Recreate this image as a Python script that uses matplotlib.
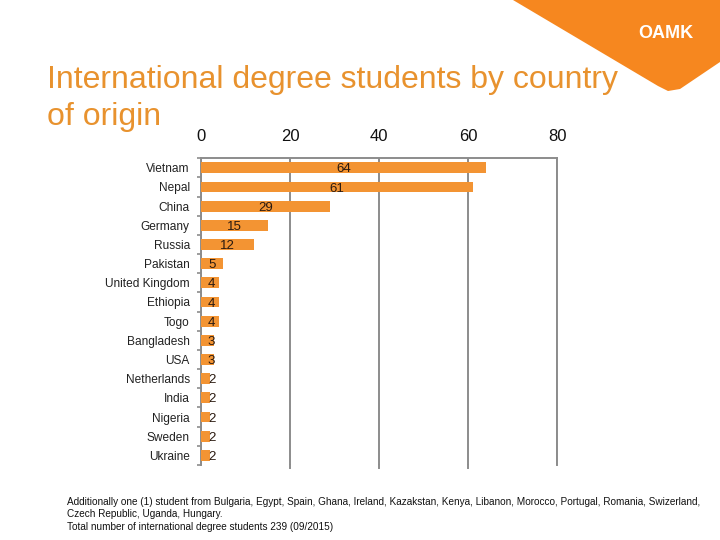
import matplotlib.pyplot as plt
from matplotlib.patches import Polygon

plt.rcParams['font.family'] = ['Liberation Sans', 'DejaVu Sans']

countries = ["Vietnam", "Nepal", "China", "Germany", "Russia", "Pakistan",
             "United Kingdom", "Ethiopia", "Togo", "Bangladesh", "USA",
             "Netherlands", "India", "Nigeria", "Sweden", "Ukraine"]
students = [64, 61, 29, 15, 12, 5, 4, 4, 4, 3, 3, 2, 2, 2, 2, 2]
xticks = [0, 20, 40, 60, 80]

title_lines = ["International degree students by country", "of origin"]
note = ("Additionally one (1) student from Bulgaria, Egypt, Spain, Ghana, Ireland, Kazakstan, Kenya, "
        "Libanon, Morocco, Portugal, Romania, Swizerland,\nCzech Republic, Uganda, Hungary.\n"
        "Total number of international degree students 239 (09/2015)")

orange = "#F39433"
title_col = "#E8922E"
grey = "#8C8C8C"

fig = plt.figure(figsize=(7.2, 5.4), dpi=100)
ax = fig.add_axes([0.279, 0.139, 0.495, 0.568])

y = list(range(len(countries)))
ax.barh(y, students, height=0.57, color=orange, zorder=3)
ax.set_ylim(len(countries) - 0.5, -0.5)
ax.set_xlim(0, 80)

for yi, v in zip(y, students):
    ax.text(max(v / 2, 2.4), yi + 0.08, str(v), ha='center', va='center',
            fontsize=9.5, color='#2a1a10', zorder=4)

ax.set_yticks(y)
ax.set_yticklabels(countries, fontsize=8.6, color='#222222')
ax.set_yticks([i - 0.5 for i in range(len(countries) + 1)], minor=True)
ax.tick_params(axis='y', which='major', length=0, pad=8)
ax.tick_params(axis='y', which='minor', length=3, color=grey, width=1.2)

ax.xaxis.tick_top()
ax.set_xticks(xticks)
ax.set_xticklabels([str(t) for t in xticks], fontsize=12, color='#111111')
ax.tick_params(axis='x', which='major', length=0, pad=10)
ax.grid(axis='x', color=grey, linewidth=1.4, zorder=0)

ax.spines['bottom'].set_visible(False)
for s in ['top', 'left', 'right']:
    ax.spines[s].set_color(grey)
    ax.spines[s].set_linewidth(1.4)

# small stubs below the gridlines
for t in xticks[1:-1]:
    ax.plot([t, t], [len(countries) - 0.5, len(countries) - 0.35], color=grey,
            linewidth=1.4, clip_on=False, zorder=0)

# title, one text per line so the second line stays short
for i, line in enumerate(title_lines):
    fig.text(47 / 720, 1 - (88 + 37 * i) / 540, line, fontsize=23,
             color=title_col, ha='left', va='baseline')

fig.text(67 / 720, 1 - 497 / 540, note, fontsize=7.2, color='#111111',
         ha='left', va='top', linespacing=1.3)

# logo corner
W, H = 720, 540
pts = [(513, 0), (720, 0), (720, 62), (680, 89), (668, 91), (658, 86)]
poly = Polygon([(px / W, 1 - py / H) for px, py in pts], closed=True,
               transform=fig.transFigure, facecolor="#F6871F", edgecolor='none')
fig.patches.append(poly)
fig.text(666 / 720, 1 - 34 / 540, "OAMK", fontsize=13, fontweight='bold',
         color='white', ha='center', va='center')

fig.savefig('out.png', dpi=100)
